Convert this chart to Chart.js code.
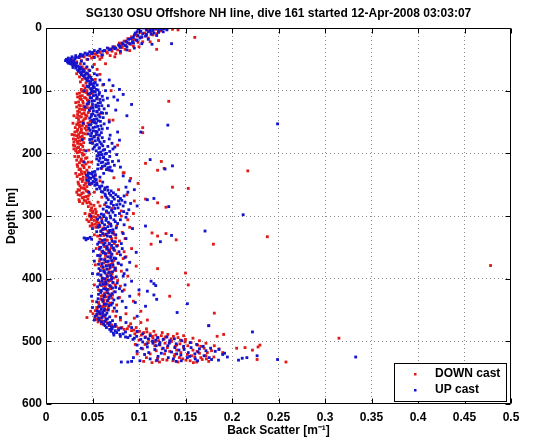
<!DOCTYPE html>
<html>
<head>
<meta charset="utf-8">
<script src="https://cdn.jsdelivr.net/npm/chart.js@4.4.1/dist/chart.umd.min.js"></script>
<style>
html,body{margin:0;padding:0;background:#fff;}
#wrap{width:537px;height:442px;}
</style>
</head>
<body>
<div id="wrap"><canvas id="c" width="537" height="442"></canvas></div>
<script>
const chartTitle = 'SG130 OSU Offshore NH line, dive 161 started 12-Apr-2008 03:03:07';
const xAxisTitle = 'Back Scatter [m\u207B\u00B9]';
const yAxisTitle = 'Depth [m]';
const seriesNames = ['DOWN cast', 'UP cast'];
const xTicks = [0, 0.05, 0.1, 0.15, 0.2, 0.25, 0.3, 0.35, 0.4, 0.45, 0.5];
const xTickLabels = ['0', '0.05', '0.1', '0.15', '0.2', '0.25', '0.3', '0.35', '0.4', '0.45', '0.5'];
const yTicks = [0, 100, 200, 300, 400, 500, 600];
const yTickLabels = ['0', '100', '200', '300', '400', '500', '600'];

// [back scatter, depth]
const downCast = [
[0.128,1],[0.118,2],[0.136,2],[0.109,3],[0.124,4],[0.142,3],[0.160,15],[0.113,6],[0.101,7],[0.119,9],[0.097,10],[0.108,12],[0.092,14],[0.103,15],[0.088,17],[0.121,20],[0.095,19],[0.084,21],[0.099,23],[0.079,24],[0.091,26],[0.119,34],[0.086,28],[0.074,30],[0.082,31],[0.068,33],[0.077,35],[0.063,36],[0.071,37],[0.058,39],[0.066,40],[0.052,41],[0.061,43],[0.047,44],[0.056,45],
[0.041,46],[0.036,47],[0.049,48],[0.031,49],[0.044,50],[0.028,51],[0.038,52],[0.026,53],[0.033,54],[0.029,56],[0.037,57],[0.064,57],[0.031,59],[0.034,61],[0.039,62],[0.043,64],[0.036,65],
[0.041,66],[0.046,67],[0.035,69],[0.040,70],[0.044,72],[0.033,73],[0.038,75],[0.047,76],[0.036,78],[0.042,80],[0.039,82],[0.045,84],[0.037,86],[0.043,88],[0.048,90],[0.040,92],[0.046,94],[0.042,96],[0.038,98],[0.070,100],[0.044,100],
[0.041,102],[0.036,104],[0.045,106],[0.039,108],[0.034,110],[0.043,112],[0.038,114],[0.132,117],[0.046,116],[0.035,118],[0.040,120],[0.044,122],[0.037,124],[0.033,126],[0.042,128],[0.039,130],[0.047,132],[0.036,134],[0.041,136],[0.034,138],[0.044,140],[0.038,142],[0.043,144],[0.068,147],[0.072,147],[0.035,146],[0.040,148],[0.037,150],[0.045,152],[0.033,154],[0.039,156],[0.104,159],[0.036,158],[0.042,160],[0.034,162],[0.038,164],[0.104,167],[0.031,166],[0.040,168],[0.035,170],[0.033,172],[0.037,174],[0.041,176],[0.032,178],[0.036,180],[0.030,182],[0.034,184],[0.077,187],[0.038,186],[0.031,188],[0.035,190],[0.033,192],[0.037,194],[0.032,196],[0.036,198],[0.039,200],
[0.041,202],[0.035,205],[0.044,207],[0.038,209],[0.033,211],[0.040,213],[0.124,213],[0.107,216],[0.036,215],[0.043,217],[0.039,219],[0.034,221],[0.041,223],[0.127,224],[0.120,227],[0.217,228],[0.037,225],[0.044,227],[0.038,229],[0.067,226],[0.083,231],[0.042,232],[0.036,234],[0.045,236],[0.040,238],[0.073,239],
[0.037,241],[0.043,243],[0.039,245],[0.046,247],[0.035,249],[0.041,251],[0.044,253],[0.038,255],[0.136,254],[0.153,256],[0.042,257],[0.036,259],[0.045,261],[0.040,263],[0.047,265],[0.037,267],[0.043,269],[0.039,271],[0.107,273],[0.120,279],[0.045,273],[0.041,275],[0.036,277],[0.044,279],[0.048,281],[0.129,286],[0.058,284],[0.063,282],[0.071,288],[0.049,287],[0.053,289],
[0.048,291],[0.054,293],[0.050,295],[0.047,297],[0.056,299],[0.051,301],[0.049,303],[0.055,305],[0.052,307],[0.046,309],[0.057,311],[0.053,313],[0.050,315],[0.058,317],[0.062,319],[0.081,300],[0.088,306],[0.094,296],
[0.064,321],[0.070,323],[0.059,325],[0.067,327],[0.073,329],[0.114,327],[0.120,332],[0.129,328],[0.140,338],[0.113,345],[0.180,345],[0.238,333],[0.062,331],[0.069,333],[0.075,335],[0.058,337],[0.066,339],[0.072,341],[0.061,343],[0.068,345],[0.077,347],[0.063,349],[0.070,351],[0.065,353],[0.074,355],[0.060,357],[0.067,359],[0.071,361],[0.064,363],[0.086,365],[0.069,367],[0.058,369],[0.073,371],[0.066,373],[0.062,375],[0.070,377],[0.478,379],[0.065,379],[0.072,381],[0.120,384],[0.061,383],[0.068,385],[0.075,387],[0.150,391],[0.063,389],[0.067,391],[0.071,393],[0.059,395],[0.066,397],[0.073,399],
[0.064,401],[0.069,403],[0.062,405],[0.072,407],[0.153,410],[0.066,409],[0.060,411],[0.070,413],[0.064,415],[0.067,417],[0.058,419],[0.073,421],[0.063,423],[0.133,428],[0.068,425],[0.061,427],[0.065,429],[0.071,431],[0.059,433],[0.066,435],[0.062,437],[0.069,439],[0.057,441],[0.064,443],[0.060,445],[0.067,447],[0.055,449],
[0.053,451],[0.061,453],[0.057,455],[0.044,462],[0.059,457],[0.055,459],[0.063,461],[0.058,463],[0.181,455],[0.054,465],[0.060,467],[0.056,469],[0.066,471],[0.062,473],[0.086,456],[0.095,463],[0.102,470],[0.089,476],[0.068,475],[0.072,477],[0.078,479],[0.084,481],[0.092,483],[0.098,485],[0.105,486],[0.112,488],[0.175,475],[0.184,492],[0.191,489],[0.118,490],[0.124,491],[0.131,489],[0.137,492],[0.107,493],[0.115,495],[0.127,496],[0.142,494],[0.150,497],[0.315,495],[0.100,498],[0.121,499],[0.135,500],
[0.110,502],[0.128,503],[0.144,504],[0.156,502],[0.163,506],[0.230,506],[0.228,509],[0.214,510],[0.205,511],[0.222,514],[0.117,507],[0.139,508],[0.148,510],[0.170,511],[0.125,512],[0.158,514],[0.178,515],[0.133,516],[0.145,518],[0.165,519],[0.112,520],[0.152,521],[0.172,523],[0.138,524],[0.160,525],[0.120,527],[0.147,528],[0.168,529],[0.130,530],[0.155,531],[0.175,532],[0.227,529],[0.258,533],[0.142,533],[0.122,533],[0.162,533],[0.105,532],[0.114,534],
[0.084,231],[0.091,240],[0.099,248],[0.078,258],[0.087,266],[0.095,276],[0.081,292],[0.090,318],[0.085,336],[0.092,352],[0.083,368],[0.097,380],[0.088,396],[0.080,412],[0.094,436],[0.102,452],[0.109,466],[0.100,425],
[0.131,0],[0.114,1],[0.122,5],[0.106,8],[0.115,11],[0.098,13],[0.110,16],[0.093,18],[0.104,22],[0.089,24],[0.081,27],[0.094,29],[0.072,32],[0.085,34],[0.065,38],[0.075,41],[0.054,42],[0.069,44],[0.060,47],[0.051,46],
[0.0385,101],[0.0435,103],[0.0335,105],[0.047,107],[0.037,109],[0.0415,111],[0.0365,113],[0.0445,115],[0.0395,117],[0.032,119],[0.046,121],[0.0355,123],[0.0405,125],[0.0445,127],[0.036,129],[0.0415,131],[0.034,133],[0.0455,135],[0.0385,137],[0.0425,139],[0.036,141],[0.033,143],[0.0415,145],[0.0475,149],[0.0345,151],[0.0405,153],[0.036,155],[0.0435,157],[0.0315,159],[0.038,161],[0.0435,163],[0.0335,165],[0.037,167],[0.0425,169],[0.0305,171],[0.039,173],[0.0345,175],[0.0295,177],[0.0385,179],[0.0335,181],[0.0405,183],[0.0365,185],[0.0295,187],[0.0395,189],[0.0345,191],[0.030,193],[0.0405,195],[0.0355,197],[0.0335,199],
[0.0395,203],[0.0345,206],[0.0425,208],[0.0375,212],[0.0455,214],[0.0335,218],[0.0405,220],[0.0465,222],[0.0355,226],[0.0415,230],[0.0385,233],[0.0335,237],[0.0435,240],[0.0395,242],[0.0345,246],[0.0425,248],[0.0475,250],[0.0365,252],[0.0405,256],[0.0345,258],[0.0435,260],[0.0385,264],[0.0345,266],[0.0455,268],[0.0405,270],[0.0355,274],[0.0425,276],[0.0465,278],[0.0395,280],[0.0515,283],[0.0455,285],[0.0505,292],[0.0535,296],[0.0465,300],[0.0535,302],[0.0485,306],[0.0545,309],[0.0495,312],[0.0555,314],[0.0475,316],[0.0535,318],
[0.0605,322],[0.0665,324],[0.0725,326],[0.0635,330],[0.0555,332],[0.0705,336],[0.0645,338],[0.0595,342],[0.0735,344],[0.0655,348],[0.0575,350],[0.0685,354],[0.0625,358],[0.0765,360],[0.0585,362],[0.0695,364],[0.0635,368],[0.0575,372],[0.0715,374],[0.0675,378],[0.0595,380],[0.0745,384],[0.0625,386],[0.0695,390],[0.0565,392],[0.0655,394],[0.0705,398],[0.0605,400],[0.0675,404],[0.0585,406],[0.0745,410],[0.0635,412],[0.0695,416],[0.0565,418],[0.0655,422],[0.0715,426],[0.0595,428],[0.0675,432],[0.0625,434],[0.0565,438],[0.0685,440],[0.0615,444],[0.0545,446],[0.0645,450],
[0.0565,452],[0.0505,456],[0.0615,458],[0.0525,462],[0.0575,466],[0.0645,468],[0.0595,472],[0.0705,474],[0.0755,476],[0.0815,478],[0.0875,480],[0.0945,482],[0.1005,484],[0.1085,485],[0.0955,488],[0.1025,490],[0.1145,492],[0.1205,494],[0.1285,493],[0.1345,496],[0.1445,498],[0.1105,497],[0.1175,501],[0.1335,501],[0.1495,501],[0.1065,505],[0.1225,506],[0.1405,506],[0.1525,507],[0.1665,508],[0.1305,510],[0.1185,515],[0.1405,514],[0.1625,516],[0.1735,518],[0.1275,520],[0.1385,521],[0.1565,523],[0.1805,525],[0.1435,526],[0.1665,526],[0.1255,529],[0.1505,530],[0.1725,528],[0.1365,531],[0.1585,534],[0.1185,531],
[0.112,22],[0.100,30],[0.090,36],[0.080,40],[0.074,46],[0.058,50],[0.052,58],[0.055,66],[0.058,74],[0.053,82],[0.061,91],[0.050,104],[0.055,113],[0.049,126],[0.058,137],[0.052,150],[0.047,163],[0.056,171],[0.050,182],[0.046,195],[0.055,204],[0.049,214],[0.060,224],[0.053,236],[0.058,244],[0.052,262],[0.060,270],[0.056,278],[0.065,294],[0.060,304],[0.068,312],[0.076,316],[0.082,326],[0.079,340],[0.084,357],[0.078,376],[0.081,388],[0.077,403],[0.084,418],[0.079,430],[0.076,442],[0.072,452],[0.075,460],[0.080,466],[0.091,472],[0.097,478],[0.108,480],[0.116,484],[0.125,486],[0.141,488],[0.148,491],[0.158,495],[0.165,499],[0.172,503],[0.181,507],[0.186,512],[0.190,518],[0.096,505],[0.104,512],[0.108,526],[0.098,520],[0.030,140],[0.028,170],[0.029,152],[0.031,205],[0.032,232],[0.033,262],[0.042,296],[0.044,306],[0.052,330],[0.054,352],[0.053,378],[0.052,410],[0.050,436],[0.048,452]
];

const upCast = [
[0.105,0],[0.112,1],[0.118,1],[0.124,2],[0.099,2],[0.108,3],[0.115,4],[0.130,3],[0.102,5],[0.110,6],[0.121,7],[0.096,8],[0.104,9],[0.113,10],[0.099,12],[0.107,13],[0.094,15],[0.101,16],[0.114,26],[0.135,25],[0.089,18],[0.097,19],[0.086,21],[0.093,22],[0.082,24],[0.090,25],[0.078,27],[0.085,28],[0.072,30],[0.080,31],[0.066,32],[0.074,33],[0.058,34],[0.068,35],[0.052,36],[0.061,37],[0.047,38],[0.055,39],[0.042,40],[0.049,41],[0.037,42],[0.044,43],[0.032,44],[0.039,45],[0.028,46],[0.035,47],[0.024,48],[0.031,49],[0.022,50],[0.027,51],[0.025,52],[0.030,53],[0.023,54],[0.028,55],[0.033,56],[0.026,57],[0.031,58],[0.050,62],[0.052,73],[0.029,60],[0.034,61],[0.037,63],[0.032,64],[0.036,66],[0.040,67],[0.035,69],[0.039,70],[0.043,72],[0.038,74],[0.042,75],[0.046,77],[0.041,78],[0.045,80],[0.068,83],[0.049,82],[0.044,84],[0.048,86],[0.052,88],[0.047,90],[0.072,92],[0.051,92],[0.079,98],[0.046,94],[0.050,96],[0.054,98],[0.049,100],
[0.053,102],[0.048,104],[0.057,106],[0.051,108],[0.073,110],[0.055,110],[0.049,112],[0.077,115],[0.058,114],[0.052,116],[0.046,118],[0.056,120],[0.050,122],[0.060,124],[0.054,126],[0.048,128],[0.075,131],[0.057,130],[0.051,132],[0.055,134],[0.061,136],[0.049,138],[0.053,140],[0.058,142],[0.047,144],[0.052,146],[0.056,148],[0.050,150],[0.054,152],[0.131,155],[0.249,153],[0.048,154],[0.059,156],[0.053,158],[0.046,160],[0.057,162],[0.051,164],[0.077,166],[0.055,166],[0.049,168],[0.054,170],[0.048,172],[0.052,174],[0.068,177],[0.056,176],[0.079,179],[0.047,178],[0.053,180],[0.058,182],[0.050,184],[0.055,186],[0.061,188],[0.052,190],[0.072,193],[0.057,192],[0.063,194],[0.054,196],[0.059,198],[0.065,200],
[0.060,202],[0.055,204],[0.062,206],[0.112,210],[0.058,208],[0.064,210],[0.057,212],[0.128,225],[0.136,220],[0.061,214],[0.067,216],[0.056,218],[0.063,220],[0.069,222],[0.059,224],[0.065,226],[0.071,228],[0.050,230],[0.047,232],[0.053,234],[0.045,236],[0.051,238],[0.048,240],[0.054,242],[0.046,244],[0.052,246],[0.049,248],[0.055,250],[0.060,252],[0.066,254],[0.058,256],[0.063,258],[0.070,260],[0.061,262],[0.068,264],[0.075,266],[0.064,268],[0.072,270],[0.116,272],[0.109,274],[0.080,272],[0.067,274],[0.078,276],[0.085,278],[0.070,280],[0.076,282],[0.132,285],[0.083,284],[0.068,286],[0.074,288],[0.089,290],[0.065,292],[0.072,294],[0.212,298],[0.079,296],[0.062,298],[0.069,300],
[0.058,302],[0.065,304],[0.073,306],[0.060,308],[0.067,310],[0.077,312],[0.063,314],[0.107,316],[0.070,316],[0.056,318],[0.064,320],[0.171,324],[0.072,322],[0.059,324],[0.068,326],[0.061,328],[0.135,331],[0.123,341],[0.075,330],[0.066,332],[0.041,335],[0.045,336],[0.049,337],[0.043,338],[0.063,338],[0.071,340],[0.057,342],[0.068,344],[0.062,346],[0.076,348],[0.059,350],[0.066,352],[0.073,354],[0.061,356],[0.069,358],[0.064,360],[0.080,362],[0.058,364],[0.070,366],[0.075,368],[0.063,370],[0.067,372],[0.090,374],[0.060,376],[0.072,378],[0.065,380],[0.069,382],[0.057,384],[0.074,386],[0.062,388],[0.068,390],[0.084,392],[0.059,394],[0.066,396],[0.071,398],[0.063,400],
[0.113,404],[0.116,408],[0.118,411],[0.109,420],[0.116,426],[0.119,433],[0.067,402],[0.060,404],[0.072,406],[0.064,408],[0.058,410],[0.069,412],[0.075,414],[0.062,416],[0.066,418],[0.082,420],[0.059,422],[0.071,424],[0.063,426],[0.090,428],[0.068,430],[0.056,432],[0.073,434],[0.061,436],[0.096,438],[0.065,440],[0.070,442],[0.058,444],[0.086,446],[0.063,448],[0.067,450],
[0.055,452],[0.061,454],[0.058,456],[0.064,458],[0.053,460],[0.060,462],[0.066,464],[0.057,466],[0.063,468],[0.069,470],[0.062,472],[0.068,474],[0.175,475],[0.074,476],[0.065,478],[0.071,480],[0.078,482],[0.070,484],[0.076,486],[0.222,485],[0.083,488],[0.073,490],[0.080,492],[0.088,494],[0.095,495],[0.102,497],[0.110,496],[0.118,498],[0.126,497],[0.133,499],
[0.104,501],[0.115,503],[0.122,505],[0.140,504],[0.098,506],[0.131,507],[0.148,508],[0.109,509],[0.156,510],[0.126,511],[0.165,512],[0.117,513],[0.143,514],[0.172,515],[0.135,517],[0.153,518],[0.182,516],[0.124,519],[0.160,520],[0.145,522],[0.170,523],[0.190,521],[0.227,523],[0.216,526],[0.211,527],[0.207,530],[0.249,529],[0.333,525],[0.152,526],[0.137,528],[0.178,529],[0.101,531],[0.092,532],[0.081,533],[0.088,533],[0.140,532],[0.163,531],
[0.083,236],[0.090,244],[0.095,258],[0.088,262],[0.098,284],[0.086,302],[0.093,320],[0.081,344],[0.097,358],[0.087,386],[0.092,404],[0.100,418],[0.141,454],[0.152,440],[0.107,444],[0.098,460],[0.102,166],[0.087,140],[0.092,122],[0.083,106],
[0.116,0],[0.127,1],[0.100,1],[0.121,4],[0.112,5],[0.098,6],[0.116,8],[0.108,10],[0.095,11],[0.103,14],[0.091,17],[0.098,20],[0.087,23],[0.094,24],[0.083,26],[0.079,29],[0.087,30],[0.075,32],[0.070,34],[0.063,36],[0.056,37],[0.050,39],[0.045,41],[0.040,43],[0.036,45],[0.032,47],[0.027,49],[0.024,51],[0.021,52],[0.026,54],[0.030,56],[0.024,56],[0.028,58],[0.032,60],[0.036,62],[0.029,63],
[0.038,65],[0.034,67],[0.041,69],[0.037,71],[0.045,73],[0.040,76],[0.048,79],[0.043,81],[0.050,83],[0.046,85],[0.053,87],[0.049,89],[0.055,91],[0.044,93],[0.052,95],[0.048,97],[0.056,99],
[0.0505,101],[0.0575,103],[0.0455,105],[0.0535,107],[0.0605,109],[0.0475,111],[0.0545,113],[0.0615,115],[0.0495,117],[0.0585,119],[0.0445,121],[0.0535,123],[0.0565,125],[0.0505,127],[0.0625,129],[0.0465,131],[0.0545,133],[0.0595,135],[0.0505,137],[0.0565,139],[0.0485,141],[0.0615,143],[0.0545,145],[0.0495,147],[0.0585,149],[0.0525,151],[0.0625,153],[0.0465,155],[0.0555,157],[0.0505,159],[0.0605,161],[0.0475,163],[0.0535,165],[0.0595,167],[0.0455,169],[0.0575,171],[0.0515,173],[0.0605,175],[0.0495,177],[0.0565,179],[0.0625,181],[0.0475,183],[0.0595,185],[0.0535,187],[0.0665,189],[0.0575,191],[0.0505,193],[0.0615,195],[0.0685,197],[0.0565,199],
[0.0635,201],[0.0575,203],[0.0685,205],[0.0615,207],[0.0545,209],[0.0665,211],[0.0715,213],[0.0595,215],[0.0645,217],[0.0735,219],[0.0605,221],[0.0665,223],[0.0555,225],[0.0685,227],[0.0525,229],[0.0455,231],[0.0495,233],[0.0435,235],[0.0505,237],[0.0465,239],[0.0525,241],[0.0445,243],[0.0505,245],[0.0545,247],[0.0465,249],[0.0525,251],[0.0575,253],[0.0635,255],[0.0545,257],[0.0665,259],[0.0595,261],[0.0725,263],[0.0635,265],[0.0695,267],[0.0775,269],[0.0655,271],[0.0735,273],[0.0815,275],[0.0705,277],[0.0645,279],[0.0795,281],[0.0725,283],[0.0655,285],[0.0775,287],[0.0615,289],[0.0705,291],[0.0835,293],[0.0675,295],[0.0595,297],[0.0745,299],
[0.0625,301],[0.0695,303],[0.0555,305],[0.0645,307],[0.0745,309],[0.0605,311],[0.0695,313],[0.0575,315],[0.0665,317],[0.0755,319],[0.0615,321],[0.0685,323],[0.0545,325],[0.0715,327],[0.0645,329],[0.0585,331],[0.0695,333],[0.0475,334],[0.0435,336],[0.0605,339],[0.0745,341],[0.0635,343],[0.0555,345],[0.0705,347],[0.0655,349],[0.0725,351],[0.0575,353],[0.0675,355],[0.0785,357],[0.0615,359],[0.0705,361],[0.0555,363],[0.0665,365],[0.0735,367],[0.0595,369],[0.0705,371],[0.0645,373],[0.0775,375],[0.0565,377],[0.0685,379],[0.0615,381],[0.0745,383],[0.0655,385],[0.0585,387],[0.0715,389],[0.0635,391],[0.0555,393],[0.0695,395],[0.0755,397],[0.0605,399],[0.0705,401],[0.0565,403],[0.0645,405],[0.0765,407],[0.0615,409],[0.0685,411],[0.0555,413],[0.0715,415],[0.0645,417],[0.0595,419],[0.0745,421],[0.0665,423],[0.0565,425],[0.0695,427],[0.0625,429],[0.0775,431],[0.0605,433],[0.0665,435],[0.0545,437],[0.0715,439],[0.0625,441],[0.0675,443],[0.0565,445],[0.0735,447],[0.0595,449],
[0.0625,451],[0.0575,453],[0.0655,455],[0.0545,457],[0.0615,459],[0.0685,461],[0.0565,463],[0.0645,465],[0.0715,467],[0.0595,469],[0.0665,471],[0.0745,473],[0.0635,475],[0.0705,477],[0.0805,479],[0.0685,481],[0.0745,483],[0.0855,485],[0.0725,487],[0.0795,489],[0.0905,491],[0.0855,493],[0.0975,492],[0.1065,494],[0.0935,497],[0.1145,500],[0.1225,502],[0.1085,504],[0.1325,503],[0.1185,507],[0.1385,510],[0.1025,511],[0.1485,513],[0.1285,515],[0.1635,517],[0.1105,518],[0.1405,520],[0.1545,524],[0.1205,524],[0.1755,526],[0.1315,526],[0.1605,528],[0.1195,530],[0.1455,531],[0.1855,530],
[0.126,6],[0.119,12],[0.110,18],[0.103,25],[0.095,32],[0.087,35],[0.080,37],[0.060,43],[0.052,47],[0.045,50],[0.038,53],[0.041,57],[0.044,62],[0.047,68],[0.055,75],[0.058,83],[0.062,90],[0.064,100],[0.066,112],[0.067,124],[0.065,136],[0.068,150],[0.066,160],[0.069,171],[0.071,184],[0.074,190],[0.076,202],[0.078,212],[0.080,222],[0.062,232],[0.058,238],[0.061,246],[0.086,254],[0.084,268],[0.091,280],[0.087,296],[0.080,306],[0.084,314],[0.083,328],[0.086,336],[0.082,352],[0.085,366],[0.081,378],[0.083,396],[0.085,410],[0.079,416],[0.082,436],[0.076,452],[0.080,462],[0.086,470],[0.092,478],[0.098,484],[0.104,488],[0.112,491],[0.120,494],[0.130,493],[0.138,496],[0.146,499],[0.155,502],[0.162,505],[0.169,508],[0.177,511],[0.186,513],[0.192,519],[0.195,525],[0.098,516],[0.106,521],[0.094,526],[0.112,528],[0.041,100],[0.042,126],[0.040,152],[0.039,178],[0.043,196],[0.041,214],[0.046,262],[0.048,300],[0.050,320],[0.051,356],[0.052,372],[0.050,392],[0.049,428],[0.050,446],[0.052,466]
];

const FONT = '"Liberation Sans", Arial, Helvetica, sans-serif';
const RED = 'rgb(225,25,25)';
const BLUE = 'rgb(20,20,205)';

const toPoints = arr => arr.map(p => ({x: p[0], y: p[1]}));

const frame = {
  id: 'matlabFrame',
  afterDraw(chart) {
    const ctx = chart.ctx;
    const a = chart.chartArea;
    const xs = chart.scales.x, ys = chart.scales.y;
    ctx.save();
    ctx.fillStyle = '#000';
    ctx.font = 'bold 12px ' + FONT;
    ctx.textAlign = 'center';
    ctx.textBaseline = 'middle';
    ctx.fillText(chartTitle, (a.left + a.right) / 2, 14);

    ctx.strokeStyle = '#000';
    ctx.lineWidth = 1;
    ctx.setLineDash([]);
    const L = Math.round(a.left) + 0.5, R = Math.round(a.right) - 0.5;
    const T = Math.round(a.top) + 0.5, B = Math.round(a.bottom) - 0.5;
    ctx.beginPath();
    ctx.rect(L, T, R - L, B - T);
    xTicks.forEach(v => {
      const px = Math.round(xs.getPixelForValue(v)) + 0.5;
      ctx.moveTo(px, B); ctx.lineTo(px, B - 5);
      ctx.moveTo(px, T); ctx.lineTo(px, T + 5);
    });
    yTicks.forEach(v => {
      const py = Math.round(ys.getPixelForValue(v)) + 0.5;
      ctx.moveTo(L, py); ctx.lineTo(L + 5, py);
      ctx.moveTo(R, py); ctx.lineTo(R - 5, py);
    });
    ctx.stroke();

    const bw = 112, bh = 38;
    const bx = Math.round(a.right) - 5 - bw, by = Math.round(a.bottom) - 3 - bh;
    ctx.fillStyle = '#fff';
    ctx.fillRect(bx, by, bw, bh);
    ctx.strokeStyle = '#000';
    ctx.strokeRect(bx + 0.5, by + 0.5, bw, bh);
    ctx.font = 'bold 12px ' + FONT;
    ctx.textBaseline = 'middle';
    ctx.textAlign = 'left';
    chart.data.datasets.forEach((ds, i) => {
      const cy = by + 11 + i * 16;
      ctx.fillStyle = ds.backgroundColor;
      ctx.fillRect(bx + 20, cy - 1, 2.5, 2.5);
      ctx.fillStyle = '#000';
      ctx.fillText(ds.label, bx + 41, cy);
    });
    ctx.restore();
  }
};

new Chart(document.getElementById('c'), {
  type: 'scatter',
  data: {
    datasets: [
      {label: seriesNames[0], data: toPoints(downCast), backgroundColor: RED, borderColor: RED, pointStyle: 'rect', pointRadius: 2, borderWidth: 0, order: 1},
      {label: seriesNames[1], data: toPoints(upCast), backgroundColor: BLUE, borderColor: BLUE, pointStyle: 'rect', pointRadius: 2, borderWidth: 0, order: 0}
    ]
  },
  options: {
    responsive: false,
    animation: false,
    devicePixelRatio: 1,
    layout: {padding: {left: 0, right: 26, top: 28, bottom: 0}},
    plugins: {
      legend: {display: false},
      tooltip: {enabled: false},
      title: {display: false}
    },
    scales: {
      x: {
        type: 'linear', position: 'bottom', min: 0, max: 0.5,
        afterBuildTicks: s => { s.ticks = xTicks.map(v => ({value: v})); },
        afterFit: s => { s.height = 38; s.paddingLeft = 0; s.paddingRight = 0; },
        ticks: {
          callback: (v, i) => xTickLabels[i], autoSkip: false, maxRotation: 0,
          color: '#000', padding: 6, font: {family: FONT, size: 12, weight: 'bold'}
        },
        grid: {
          drawTicks: false, lineWidth: 1,
          color: c => (c.index === 0 || c.index === xTicks.length - 1) ? 'rgba(0,0,0,0)' : '#8a8a8a'
        },
        border: {display: false, dash: [1, 3]},
        title: {display: true, text: xAxisTitle, color: '#000', font: {family: FONT, size: 12, weight: 'bold'}, padding: {top: 0, bottom: 4}}
      },
      y: {
        type: 'linear', position: 'left', min: 0, max: 600, reverse: true,
        afterBuildTicks: s => { s.ticks = yTicks.map(v => ({value: v})); },
        afterFit: s => { s.width = 46; s.paddingTop = 0; s.paddingBottom = 0; },
        ticks: {
          callback: (v, i) => yTickLabels[i], autoSkip: false,
          color: '#000', padding: 4, font: {family: FONT, size: 12, weight: 'bold'}
        },
        grid: {
          drawTicks: false, lineWidth: 1,
          color: c => (c.index === 0 || c.index === yTicks.length - 1) ? 'rgba(0,0,0,0)' : '#8a8a8a'
        },
        border: {display: false, dash: [1, 3]},
        title: {display: true, text: yAxisTitle, color: '#000', font: {family: FONT, size: 12, weight: 'bold'}, padding: {top: 4, bottom: 0}}
      }
    }
  },
  plugins: [frame]
});
</script>
</body>
</html>
